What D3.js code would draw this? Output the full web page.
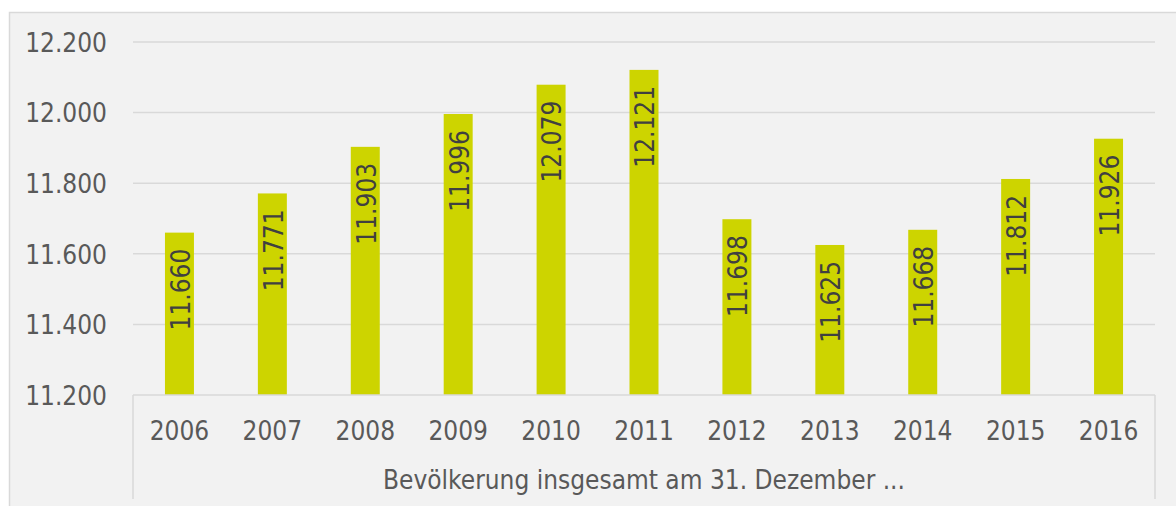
<!DOCTYPE html>
<html>
<head>
<meta charset="utf-8">
<script src="https://cdn.jsdelivr.net/npm/d3@7"></script>
<style>
	body { margin: 0; background: #fff; }
	text { font-family: "DejaVu Sans Condensed", "DejaVu Sans", sans-serif; font-stretch: condensed; }
</style>
</head>
<body>
<div id="chart"></div>
<script>
/* values */
const years = ["2006", "2007", "2008", "2009", "2010", "2011", "2012", "2013", "2014", "2015", "2016"];
const population = [11660, 11771, 11903, 11996, 12079, 12121, 11698, 11625, 11668, 11812, 11926];
const yTicks = [11200, 11400, 11600, 11800, 12000, 12200];
const groupLabel = "Bevölkerung insgesamt am 31. Dezember ...";

const width = 1176, height = 506;
const plot = { left: 133, right: 1155, top: 42, bottom: 395 };
const fontSize = 26;

/* german number format: 12.200 */
const fmt = d3.formatLocale({ decimal: ",", thousands: ".", grouping: [3], currency: ["", " €"] }).format(",d");

const svg = d3.select("#chart")
	.append("svg")
	.attr("width", width)
	.attr("height", height);

/* chart area background + border */
svg.append("rect")
	.attr("x", 9.5).attr("y", 12.5)
	.attr("width", 1300).attr("height", 600)
	.attr("fill", "#f2f2f2")
	.attr("stroke", "#d9d9d9")
	.attr("stroke-width", 1.5);

const x = d3.scaleBand()
	.domain(years)
	.range([plot.left, plot.right])
	.paddingInner(0.688)
	.paddingOuter(0.344);

const y = d3.scaleLinear()
	.domain([11200, 12200])
	.range([plot.bottom, plot.top]);

/* gridlines */
svg.append("g").attr("class", "grid")
	.selectAll("line")
	.data(yTicks.slice(1))
	.join("line")
	.attr("x1", plot.left).attr("x2", plot.right)
	.attr("y1", d => y(d)).attr("y2", d => y(d))
	.attr("stroke", "#d9d9d9")
	.attr("stroke-width", 1.5);

/* y axis labels */
const yAxis = svg.append("g")
	.attr("transform", `translate(${plot.left - 26},0)`)
	.call(d3.axisLeft(y).tickValues(yTicks).tickFormat(fmt).tickSize(0).tickPadding(0));
yAxis.select(".domain").remove();
yAxis.selectAll("text")
	.attr("fill", "#595959")
	.attr("font-size", fontSize)
	.attr("dy", "0.36em");

/* bars */
svg.append("g").attr("class", "bars")
	.selectAll("rect")
	.data(population)
	.join("rect")
	.attr("x", (d, i) => x(years[i]))
	.attr("width", x.bandwidth())
	.attr("y", d => y(d))
	.attr("height", d => y.range()[0] - y(d))
	.attr("fill", "#cdd400");

/* data labels, rotated, inside end */
svg.append("g").attr("class", "labels")
	.selectAll("text")
	.data(population)
	.join("text")
	.attr("transform", (d, i) => `translate(${x(years[i]) + x.bandwidth() / 2 + 1},${y(d) + 16}) rotate(-90)`)
	.attr("text-anchor", "end")
	.attr("dy", "0.36em")
	.attr("font-size", fontSize)
	.attr("fill", "#404040")
	.text(d => fmt(d));

/* category axis: box lines */
const cat = svg.append("g").attr("class", "category-axis");
cat.append("line")
	.attr("x1", plot.left).attr("x2", plot.right)
	.attr("y1", plot.bottom).attr("y2", plot.bottom)
	.attr("stroke", "#d9d9d9").attr("stroke-width", 1.5);
cat.selectAll("line.side")
	.data([plot.left, plot.right])
	.join("line")
	.attr("class", "side")
	.attr("x1", d => d).attr("x2", d => d)
	.attr("y1", plot.bottom).attr("y2", 499)
	.attr("stroke", "#d9d9d9").attr("stroke-width", 1.5);

/* year labels */
const xAxis = svg.append("g")
	.attr("transform", `translate(0,${plot.bottom})`)
	.call(d3.axisBottom(x).tickSize(0).tickPadding(0));
xAxis.select(".domain").remove();
xAxis.selectAll("text")
	.attr("fill", "#595959")
	.attr("font-size", fontSize)
	.attr("dy", null)
	.attr("y", 45);

/* group label */
cat.append("text")
	.attr("x", (plot.left + plot.right) / 2)
	.attr("y", 489)
	.attr("text-anchor", "middle")
	.attr("font-size", fontSize)
	.attr("fill", "#595959")
	.text(groupLabel);
</script>
</body>
</html>
